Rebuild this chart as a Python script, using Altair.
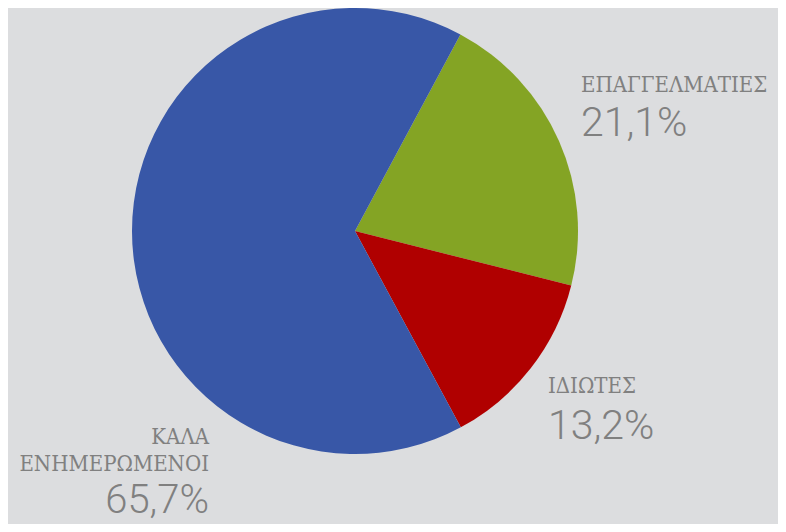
import altair as alt
import pandas as pd
import math

categories = ["ΕΠΑΓΓΕΛΜΑΤΙΕΣ", "ΙΔΙΩΤΕΣ", "ΚΑΛΑ ΕΝΗΜΕΡΩΜΕΝΟΙ"]
values = [21.1, 13.2, 65.7]
colors = ["#84a424", "#b00000", "#3857a7"]
pct_labels = [f"{v:.1f}".replace(".", ",") + "%" for v in values]

df = pd.DataFrame({"cat": categories, "val": values, "order": [0, 1, 2]})

start = math.radians(28.2)
BG = "#dcdddf"
TXT = "#808080"
NAME_FONT = "'DejaVu Serif Condensed', 'DejaVu Serif', serif"
NUM_FONT = "Roboto"

pie = alt.Chart(df).mark_arc(radius=223, stroke=None).encode(
    theta=alt.Theta("val:Q", stack=True, scale=alt.Scale(range=[start, start + 2 * math.pi])),
    order=alt.Order("order:Q"),
    color=alt.Color("cat:N", scale=alt.Scale(domain=categories, range=colors), legend=None),
    x=alt.value(347),
    y=alt.value(223),
)

def txt(text, x, y, font, size, align="left", weight="normal"):
    return alt.Chart(df).transform_filter("datum.order == 0").mark_text(
        text=text, font=font, fontSize=size, fontWeight=weight, color=TXT,
        align=align, baseline="alphabetic",
    ).encode(x=alt.value(x), y=alt.value(y))

layers = [
    pie,
    txt(categories[0], 573, 84, NAME_FONT, 22),
    txt(pct_labels[0], 573, 128, NUM_FONT, 41, weight=300),
    txt(categories[1], 540, 385, NAME_FONT, 22),
    txt(pct_labels[1], 540, 431, NUM_FONT, 41, weight=300),
    txt("ΚΑΛΑ", 201, 436, NAME_FONT, 22, align="right"),
    txt("ΕΝΗΜΕΡΩΜΕΝΟΙ", 201, 463, NAME_FONT, 22, align="right"),
    txt(pct_labels[2], 201, 505, NUM_FONT, 40, align="right", weight=300),
]

chart = alt.layer(*layers).properties(
    width=770, height=516, padding=0,
    autosize=alt.AutoSizeParams(type="none"),
    background=BG,
).configure_view(strokeWidth=0)

chart.save("out.html", embed_options={"renderer": "svg", "actions": False})
